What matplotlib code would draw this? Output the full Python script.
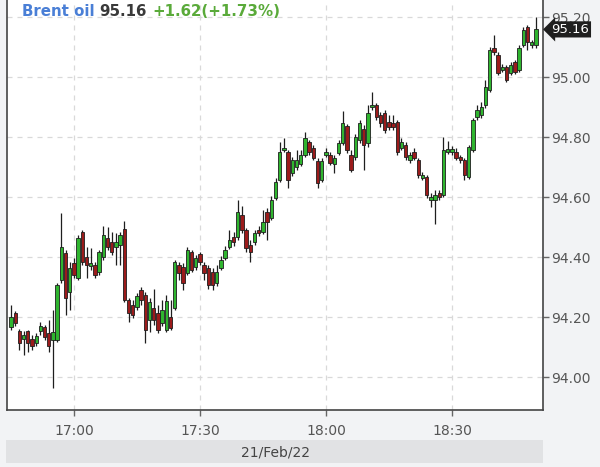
import numpy as np
import matplotlib
matplotlib.use("Agg")
from matplotlib import pyplot as plt
from matplotlib.patches import Rectangle

# 1-minute candles, Brent oil, 21/Feb/22, starting 16:45
start_hour, start_min = 16, 45
opens = [94.168, 94.215, 94.155, 94.128, 94.155, 94.128, 94.115, 94.155, 94.168, 94.148,
         94.125, 94.125, 94.325, 94.415, 94.285, 94.381, 94.331, 94.485, 94.401, 94.371,
         94.375, 94.351, 94.401, 94.465, 94.451, 94.435, 94.441, 94.495, 94.258, 94.241,
         94.235, 94.291, 94.275, 94.191, 94.231, 94.215, 94.181, 94.158, 94.201, 94.231,
         94.375, 94.368, 94.348, 94.418, 94.368, 94.411, 94.375, 94.365, 94.351, 94.315,
         94.365, 94.398, 94.435, 94.468, 94.468, 94.541, 94.491, 94.441, 94.451, 94.491,
         94.485, 94.551, 94.531, 94.598, 94.658, 94.758, 94.751, 94.681, 94.701, 94.711,
         94.741, 94.785, 94.765, 94.721, 94.658, 94.741, 94.741, 94.711, 94.748, 94.781,
         94.838, 94.741, 94.735, 94.791, 94.828, 94.781, 94.901, 94.908, 94.875, 94.881,
         94.851, 94.848, 94.851, 94.765, 94.775, 94.725, 94.751, 94.725, 94.665, 94.668,
         94.591, 94.591, 94.615, 94.608, 94.751, 94.751, 94.751, 94.735, 94.725, 94.668,
         94.758, 94.868, 94.875, 94.908, 94.958, 95.098, 95.075, 95.025, 95.035, 95.015,
         95.051, 95.025, 95.108, 95.168, 95.108, 95.108]
highs = [94.241, 94.221, 94.161, 94.155, 94.158, 94.141, 94.148, 94.185, 94.175, 94.191,
         94.225, 94.315, 94.548, 94.425, 94.385, 94.398, 94.475, 94.491, 94.435, 94.431,
         94.385, 94.425, 94.505, 94.501, 94.485, 94.481, 94.485, 94.521, 94.265, 94.258,
         94.281, 94.301, 94.285, 94.265, 94.295, 94.241, 94.258, 94.275, 94.258, 94.391,
         94.385, 94.381, 94.435, 94.425, 94.408, 94.418, 94.385, 94.375, 94.365, 94.375,
         94.405, 94.438, 94.491, 94.485, 94.591, 94.571, 94.498, 94.458, 94.491, 94.505,
         94.558, 94.565, 94.605, 94.665, 94.785, 94.798, 94.758, 94.735, 94.758, 94.758,
         94.818, 94.791, 94.775, 94.731, 94.731, 94.765, 94.751, 94.741, 94.791, 94.888,
         94.845, 94.758, 94.811, 94.858, 94.841, 94.908, 94.951, 94.915, 94.885, 94.891,
         94.875, 94.875, 94.858, 94.798, 94.785, 94.751, 94.765, 94.731, 94.685, 94.675,
         94.615, 94.625, 94.625, 94.801, 94.788, 94.771, 94.765, 94.741, 94.731, 94.775,
         94.865, 94.908, 94.918, 94.991, 95.101, 95.141, 95.085, 95.045, 95.041, 95.051,
         95.058, 95.108, 95.168, 95.175, 95.125, 95.201]
lows = [94.158, 94.171, 94.091, 94.075, 94.085, 94.091, 94.105, 94.141, 94.125, 94.085,
        93.965, 94.118, 94.315, 94.208, 94.225, 94.331, 94.325, 94.375, 94.331, 94.358,
        94.331, 94.341, 94.391, 94.425, 94.408, 94.375, 94.375, 94.251, 94.185, 94.198,
        94.225, 94.241, 94.115, 94.151, 94.175, 94.148, 94.171, 94.151, 94.158, 94.225,
        94.325, 94.291, 94.341, 94.351, 94.358, 94.375, 94.325, 94.295, 94.291, 94.305,
        94.358, 94.391, 94.428, 94.438, 94.458, 94.481, 94.418, 94.385, 94.441, 94.471,
        94.478, 94.458, 94.525, 94.591, 94.651, 94.751, 94.631, 94.671, 94.691, 94.705,
        94.735, 94.741, 94.725, 94.631, 94.651, 94.735, 94.708, 94.681, 94.741, 94.775,
        94.748, 94.685, 94.725, 94.781, 94.691, 94.768, 94.891, 94.858, 94.835, 94.815,
        94.825, 94.825, 94.741, 94.758, 94.725, 94.715, 94.725, 94.665, 94.658, 94.598,
        94.568, 94.511, 94.591, 94.601, 94.745, 94.741, 94.725, 94.715, 94.658, 94.661,
        94.751, 94.858, 94.865, 94.898, 94.951, 95.075, 95.008, 95.018, 94.985, 95.008,
        95.011, 95.018, 95.101, 95.091, 95.098, 95.098]
closes = [94.201, 94.181, 94.115, 94.141, 94.115, 94.105, 94.138, 94.171, 94.135, 94.105,
          94.151, 94.308, 94.435, 94.265, 94.365, 94.341, 94.465, 94.385, 94.375, 94.381,
          94.341, 94.418, 94.475, 94.435, 94.418, 94.451, 94.475, 94.258, 94.215, 94.208,
          94.271, 94.258, 94.158, 94.251, 94.191, 94.158, 94.225, 94.255, 94.165, 94.385,
          94.348, 94.315, 94.425, 94.358, 94.398, 94.385, 94.348, 94.308, 94.308, 94.351,
          94.391, 94.425, 94.458, 94.451, 94.551, 94.491, 94.431, 94.418, 94.481, 94.481,
          94.518, 94.518, 94.591, 94.651, 94.751, 94.765, 94.658, 94.725, 94.725, 94.741,
          94.798, 94.751, 94.731, 94.648, 94.721, 94.751, 94.715, 94.731, 94.781, 94.848,
          94.758, 94.691, 94.801, 94.848, 94.775, 94.881, 94.908, 94.868, 94.848, 94.825,
          94.835, 94.835, 94.751, 94.785, 94.735, 94.741, 94.731, 94.675, 94.675, 94.608,
          94.601, 94.608, 94.601, 94.758, 94.761, 94.761, 94.731, 94.725, 94.675, 94.768,
          94.858, 94.891, 94.901, 94.968, 95.091, 95.085, 95.015, 95.035, 94.991, 95.041,
          95.018, 95.098, 95.158, 95.118, 95.118, 95.160]

price_ticks = [94.00, 94.20, 94.40, 94.60, 94.80, 95.00, 95.20]
time_labels = ["17:00", "17:30", "18:00", "18:30"]
title_name = "Brent oil"
last_price = "95.16"
change_txt = "+1.62(+1.73%)"
date_txt = "21/Feb/22"

GREEN = "#2fb52f"
RED = "#9b1b1b"
EDGE = "#1e1e1e"
BG = "#f2f3f5"
TXT = "#555555"

o = np.array(opens)
c = np.array(closes)
x = np.arange(len(o))

fig = plt.figure(figsize=(6.0, 4.67), dpi=100, facecolor=BG)
ax = fig.add_axes([7 / 600, 57 / 467, 536 / 600, 410 / 467])
ax.set_facecolor("white")

# grid
ax.grid(True, color="#d9d9d9", linestyle=(0, (4, 4)), linewidth=0.9)
ax.set_axisbelow(True)

# wicks then bodies
ax.vlines(x, lows, highs, color=EDGE, linewidth=0.9, zorder=2)
colors = [GREEN if cc >= oo else RED for oo, cc in zip(o, c)]
body_h = np.maximum(np.abs(c - o), 0.004)
ax.bar(x, body_h, bottom=np.minimum(o, c), width=0.8, color=colors,
       edgecolor=EDGE, linewidth=0.6, zorder=3)

ax.set_xlim(-0.95, 126.7)
ax.set_ylim(93.891, 95.258)

# time axis: minutes from 16:45
tick_pos = []
for lab in time_labels:
    hh, mm = lab.split(":")
    tick_pos.append((int(hh) - start_hour) * 60 + int(mm) - start_min)
ax.set_xticks(tick_pos)
ax.set_xticklabels(time_labels)
ax.set_yticks(price_ticks)
ax.set_yticklabels(["{:.2f}".format(p) for p in price_ticks])
ax.yaxis.tick_right()
ax.tick_params(axis="both", direction="out", length=4, width=1, color="#666666",
               labelcolor=TXT, labelsize=10)
ax.tick_params(axis="x", pad=6)
ax.tick_params(axis="y", pad=2)

for side in ["left", "right", "bottom"]:
    ax.spines[side].set_color("#444444")
    ax.spines[side].set_linewidth(1.2)
ax.spines["top"].set_visible(False)

# last price marker on the right
ax.text(1.016, 95.16, last_price, transform=ax.get_yaxis_transform(), color="white",
        fontsize=9.5, va="center", ha="left", zorder=5, clip_on=False,
        bbox=dict(boxstyle="larrow,pad=0.12", fc="#1f1f1f", ec="none"))

# header text: name, price, change
fig.canvas.draw()
r = fig.canvas.get_renderer()
xp = 22 / 600
for txt, col in [(title_name, "#4a7fd6"), (last_price, "#3a3a3a"), (change_txt, "#5aaa3a")]:
    t = fig.text(xp, 1 - 11 / 467, txt, color=col, fontsize=10.8, fontweight="bold",
                 va="center", ha="left")
    bb = t.get_window_extent(renderer=r)
    xp = (bb.x1 + 5) / 600

# date band under the axis
fig.patches.append(Rectangle((6 / 600, 4 / 467), 537 / 600, 23 / 467,
                             transform=fig.transFigure, facecolor="#e1e2e4",
                             edgecolor="none"))
fig.text(275 / 600, 15 / 467, date_txt, color="#444444", fontsize=10, ha="center", va="center")

fig.savefig("out.png", dpi=100, facecolor=BG)
